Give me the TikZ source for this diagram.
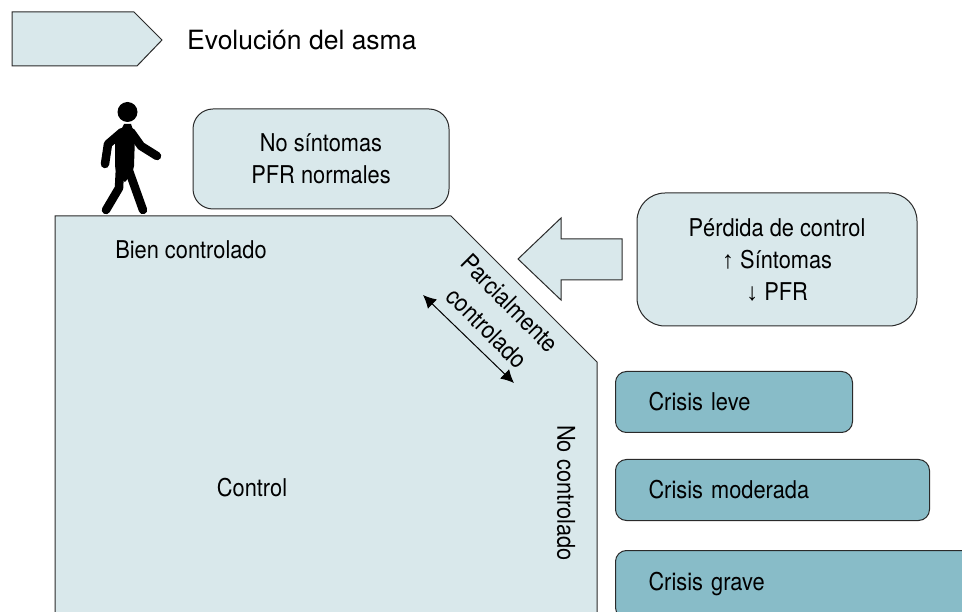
\documentclass[tikz,border=0pt]{standalone}
\usepackage{fontspec}
\setmainfont{TeX Gyre Heros}
\newfontfamily\narrowfont[FakeStretch=0.89]{TeX Gyre Heros}
\newfontfamily\arrowfont{Liberation Sans}
\usetikzlibrary{arrows.meta}
\definecolor{palefill}{HTML}{D9E8EB}
\definecolor{crisisfill}{HTML}{88BCC8}
\definecolor{edgeline}{HTML}{2A2A2A}
\tikzset{
  outline/.style={draw=edgeline,line width=1pt,fill=palefill},
  label/.style={font=\narrowfont\fontsize{24.5}{32}\selectfont,inner sep=0pt,align=center},
  softbox/.style={outline,label,rounded corners=20pt},
  crisisbox/.style={draw=edgeline,line width=1pt,fill=crisisfill,rounded corners=11pt,label,
    anchor=north west,align=left,inner ysep=0pt,inner xsep=33pt,minimum height=61pt},
  limb/.style={line width=8.5pt,line cap=round,line join=round}
}
\begin{document}
\begin{tikzpicture}[x=1pt,y=-1pt]
  \useasboundingbox (0,0) rectangle (962,612);
  \clip (0,0) rectangle (962,612);

  % legend
  \draw[outline] (12,12) -- (134,12) -- (162,40) -- (137,66) -- (12,66) -- cycle;
  \node[anchor=west,inner sep=0pt,font=\fontsize{26.5}{32}\selectfont] (legend) at (187,40) {Evolución del asma};

  % the walker
  \fill (127.5,112) circle[radius=10];
  \fill (124,124) -- (131,124) -- (135,136) -- (134,166) -- (132,174) -- (125,182) -- (117,176) -- (115,166) -- (115,143) -- cycle;
  \draw[limb] (122,132) -- (108,144) -- (105,164);
  \draw[limb] (131,132) -- (141,146) -- (157,156);
  \draw[limb] (120,168) -- (119,188) -- (106,210);
  \draw[limb] (128,168) -- (143,210);

  % control area
  \draw[outline] (55,630) -- (55,216) -- (451,216) -- (597,362) -- (597,630);
  \node[label] (wellcontrolled) at (191,250) {Bien controlado};
  \node[label] (control) at (252,488) {Control};
  \node[label,rotate=-45] (partly) at (510,303) {Parcialmente};
  \node[label,rotate=-45] (partlysecond) at (487,328) {controlado};
  \node[label,rotate=-90] (uncontrolled) at (566,493) {No controlado};
  \coordinate (upper) at (423,295);
  \coordinate (lower) at (514,383);
  \draw[{Latex[length=13pt,width=13pt]}-{Latex[length=13pt,width=13pt]},line width=1pt] (upper) -- (lower);

  % text boxes
  \node[softbox,minimum width=256pt,minimum height=100pt] (nosymptoms) at (321,159) {No síntomas\\PFR normales};
  \node[softbox,rounded corners=28pt,minimum width=280pt,minimum height=133pt] (loss) at (777,259.5)
    {\rule{0pt}{2pt}Pérdida de control\\{\arrowfont↑} Síntomas\\{\arrowfont↓} PFR};
  \draw[outline] (518,259) -- (561,218) -- (561,239) -- (622,239) -- (622,280) -- (561,280) -- (561,300) -- cycle;

  % crises
  \node[crisisbox,minimum width=237pt,text width=171pt] (mild) at (615,371) {Crisis leve};
  \node[crisisbox,minimum width=314pt,text width=248pt] (moderate) at (615,459) {Crisis moderada};
  \node[crisisbox,minimum width=370pt,text width=304pt,minimum height=68pt] (severe) at (615,550) {Crisis grave};
\end{tikzpicture}
\end{document}
